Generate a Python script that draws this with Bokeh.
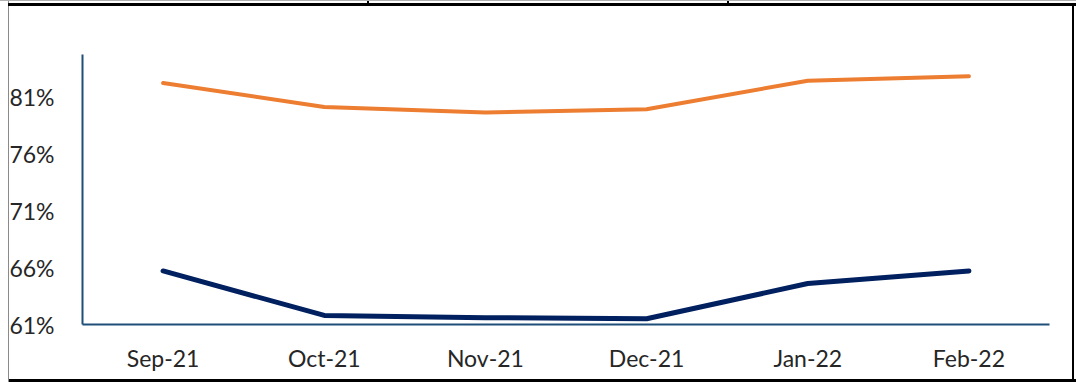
from bokeh.plotting import figure
from bokeh.models import FactorRange, Range1d, FixedTicker, CustomJSTickFormatter
from bokeh.embed import file_html
from bokeh.resources import INLINE

# Monthly shares (%) for the two series
months = ["Sep-21", "Oct-21", "Nov-21", "Dec-21", "Jan-22", "Feb-22"]
orange_series = [82.2, 80.1, 79.6, 79.9, 82.4, 82.8]
navy_series = [65.7, 61.8, 61.6, 61.5, 64.6, 65.7]
y_ticks = [61, 66, 71, 76, 81]
y_min, y_max = 61, 84.7

FONT = "Lato"
TEXT = "#262626"
AXIS = "#1F4E79"

p = figure(width=1076, height=382, output_backend="svg", toolbar_location=None,
           x_range=FactorRange(*months, range_padding=0),
           y_range=Range1d(y_min, y_max),
           min_border_left=82, min_border_right=27, min_border_top=54,
           min_border_bottom=58)
p.outline_line_color = None
p.grid.grid_line_color = None
p.background_fill_color = "white"
p.border_fill_alpha = 0

p.line(months, orange_series, line_color="#ED7D31", line_width=4,
       line_cap="round", line_join="round")
p.line(months, navy_series, line_color="#002060", line_width=5,
       line_cap="round", line_join="round")

for ax in (p.xaxis, p.yaxis):
    ax.axis_line_color = AXIS
    ax.axis_line_width = 2
    ax.major_tick_line_color = None
    ax.minor_tick_line_color = None
    ax.major_label_text_font = FONT
    ax.major_label_text_font_size = "23px"
    ax.major_label_text_color = TEXT

p.yaxis.ticker = FixedTicker(ticks=y_ticks)
p.yaxis.formatter = CustomJSTickFormatter(code="return tick.toFixed(0) + '%';")
p.yaxis.major_label_standoff = 22
p.xaxis.major_label_standoff = 13

# table-cell rules around the chart, painted behind the transparent border area
rules = [  # (x, y, w, h, colour)
    (0, 0, 1076, 1, "#b0b0b0"),
    (8, 3, 1068, 3, "#000000"),
    (367, 0, 2, 3, "#000000"),
    (727, 0, 2, 3, "#000000"),
    (8, 0, 1, 382, "#8a8a8a"),
    (1072, 3, 2, 379, "#000000"),
    (8, 379, 1068, 3, "#000000"),
]
p.styles = {
    "background-color": "white",
    "background-repeat": "no-repeat",
    "background-image": ", ".join(f"linear-gradient({c}, {c})" for *_, c in rules),
    "background-size": ", ".join(f"{w}px {h}px" for _, _, w, h, _ in rules),
    "background-position": ", ".join(f"{x}px {y}px" for x, y, *_ in rules),
}

open("out.html", "w").write(file_html(p, INLINE))
